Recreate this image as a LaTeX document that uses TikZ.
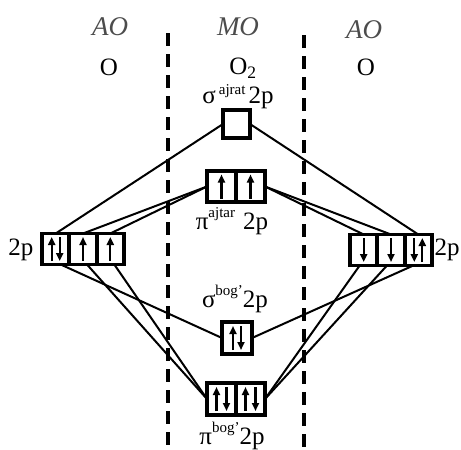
\documentclass[tikz,border=0pt]{standalone}
\usepackage{fontspec}
\setmainfont{Liberation Serif}
\usetikzlibrary{arrows.meta}
\begin{document}
\begin{tikzpicture}[x=1pt,y=-1pt,
  cell/.style={draw, line width=3.6pt, minimum width=27pt, minimum height=31pt, inner sep=0pt, outer sep=0pt},
  conn/.style={line width=2pt},
  sep/.style={line width=3.4pt, dash pattern=on 13pt off 8pt},
  eup/.style={line width=2.2pt, -{Triangle[width=7pt,length=8pt]}},
  big/.style={font=\fontsize{25}{27}\selectfont, inner sep=0pt},
  head/.style={font=\fontsize{27}{29}\selectfont\itshape, text=black!70, inner sep=0pt},
]
\useasboundingbox (0,0) rectangle (461,450);
% separators
\coordinate (d1a) at (168,33); \coordinate (d1b) at (168,452);
\coordinate (d2a) at (304,35); \coordinate (d2b) at (304,452);
\draw[sep] (d1a) -- (d1b);
\draw[sep] (d2a) -- (d2b);
% headers
\node[head] (hAOl) at (110,27) {AO};
\node[head] (hMO) at (238,27) {MO};
\node[head] (hAOr) at (364,30) {AO};
\node[big] (Ol) at (109,67) {O};
\node[big] (O2) at (243,68) {O\textsubscript{2}};
\node[big] (Or) at (366,67) {O};
% left AO cells
\node[cell] (L1) at (55.7,249) {};
\node[cell] (L2) at (83,249) {};
\node[cell] (L3) at (110.3,249) {};
\node[big] (l2p) at (21,250) {2p};
% right AO cells
\node[cell] (R1) at (363.7,250) {};
\node[cell] (R2) at (391,250) {};
\node[cell] (R3) at (418.3,250) {};
\node[big] (r2p) at (447,250) {2p};
% MO cells
\node[cell, minimum height=28pt] (sA) at (236.5,124) {};
\node[cell, minimum width=29pt] (pA1) at (221.5,186.5) {};
\node[cell, minimum width=29pt] (pA2) at (250.5,186.5) {};
\node[cell, minimum width=30pt, minimum height=32pt] (sB) at (237,338) {};
\node[cell, minimum width=29pt, minimum height=32pt] (pB1) at (221.5,399) {};
\node[cell, minimum width=29pt, minimum height=32pt] (pB2) at (250.5,399) {};
% MO labels
\node[big] (sAlab) at (238,97) {σ\hspace{3pt}\raisebox{9pt}{\fontsize{15}{16}\selectfont ajrat}\hspace{3pt}2p};
\node[big] (pAlab) at (232,221) {π\raisebox{12pt}{\fontsize{15}{16}\selectfont ajtar}\hspace{8pt}2p};
\node[big] (sBlab) at (235,299) {σ\raisebox{12pt}{\fontsize{15}{16}\selectfont bog'}2p};
\node[big] (pBlab) at (232,436) {π\raisebox{12pt}{\fontsize{15}{16}\selectfont bog'}2p};
% connectors top
\draw[conn] (L1.north) -- (sA.west);
\draw[conn] (L2.north) -- (pA1.west);
\draw[conn] (L3.north) -- (pA1.west);
\draw[conn] (R3.north) -- (sA.east);
\draw[conn] (R2.north) -- (pA2.east);
\draw[conn] (R1.north) -- (pA2.east);
% connectors bottom
\draw[conn] ([xshift=5pt]L1.south) -- (sB.west);
\draw[conn] ([xshift=4pt]L2.south) -- (pB1.west);
\draw[conn] ([xshift=4pt]L3.south) -- (pB1.west);
\draw[conn] ([xshift=-5pt]R3.south) -- (sB.east);
\draw[conn] ([xshift=-4pt]R2.south) -- (pB2.east);
\draw[conn] ([xshift=-4pt]R1.south) -- (pB2.east);
% electrons
\draw[eup] (L1) ++(-4,12) -- ++(0,-24);
\draw[eup] (L1) ++(4,-12) -- ++(0,24);
\draw[eup] (L2) ++(0,12) -- ++(0,-24);
\draw[eup] (L3) ++(0,12) -- ++(0,-24);
\draw[eup] (R1) ++(0,-12) -- ++(0,24);
\draw[eup] (R2) ++(0,-12) -- ++(0,24);
\draw[eup] (R3) ++(-4,-12) -- ++(0,24);
\draw[eup] (R3) ++(4,12) -- ++(0,-24);
\draw[eup] (pA1) ++(0,12) -- ++(0,-24);
\draw[eup] (pA2) ++(0,12) -- ++(0,-24);
\draw[eup] (sB) ++(-4,12) -- ++(0,-24);
\draw[eup] (sB) ++(4,-12) -- ++(0,24);
\draw[eup] (pB1) ++(-5,12) -- ++(0,-24);
\draw[eup] (pB1) ++(5,-12) -- ++(0,24);
\draw[eup] (pB2) ++(-5,12) -- ++(0,-24);
\draw[eup] (pB2) ++(5,-12) -- ++(0,24);
\end{tikzpicture}
\end{document}
